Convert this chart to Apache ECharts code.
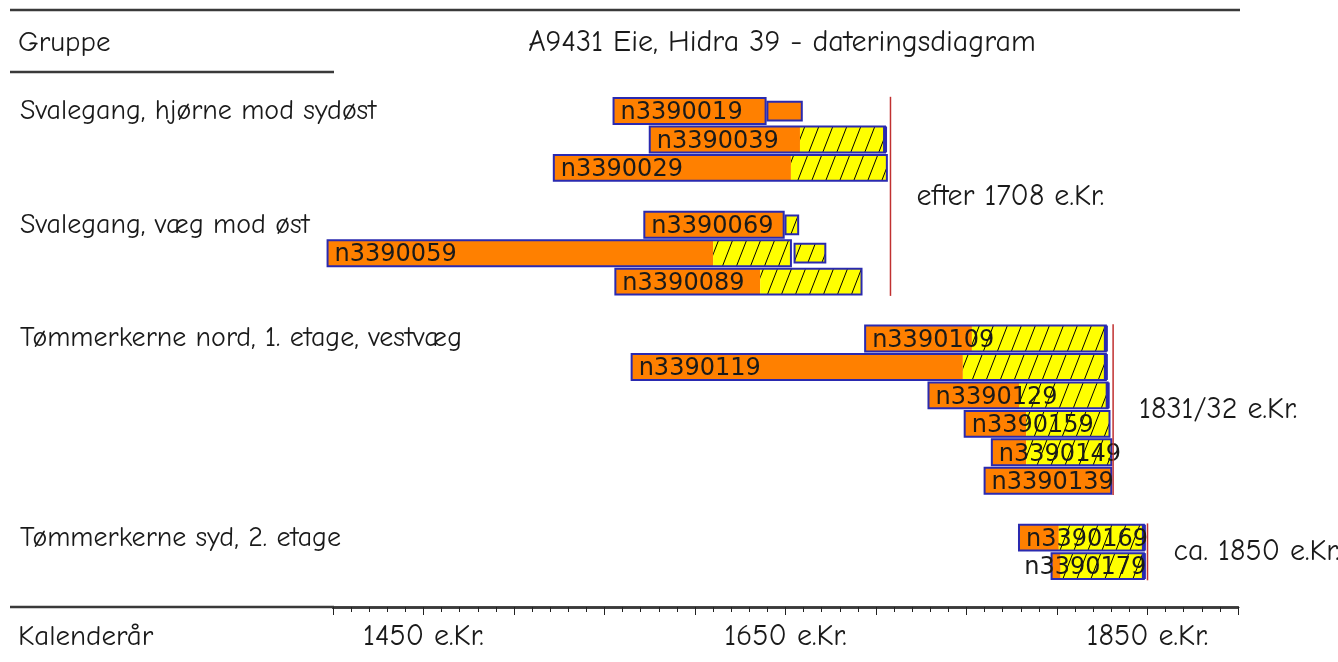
<!DOCTYPE html>
<html><head><meta charset="utf-8">
<script src="https://cdn.jsdelivr.net/npm/echarts@6.0.0/dist/echarts.min.js"></script>
<style>html,body{margin:0;padding:0;background:#fff}#c{width:1338px;height:662px}</style>
</head><body><div id="c"></div>
<script>
// ---------- DATA ----------
const groupNames = ['Svalegang, hjørne mod sydøst', 'Svalegang, væg mod øst', 'Tømmerkerne nord, 1. etage, vestvæg', 'Tømmerkerne syd, 2. etage'];
// rows of the diagram ('' = empty spacer row between groups)
const samples      = ['n3390019','n3390039','n3390029','', 'n3390069','n3390059','n3390089','', 'n3390109','n3390119','n3390129','n3390159','n3390149','n3390139','', 'n3390169','n3390179'];
const sampleGroup  = [0,0,0,-1, 1,1,1,-1, 2,2,2,2,2,2,-1, 3,3];
const startYear    = [1555,1575,1522,null, 1572,1397,1556,null, 1694,1565,1729,1749,1764,1760,null, 1779,1797];
const sapwoodStart = [null,1658,1653,null, null,1610,1636,null, 1753,1748,1779,1783,1783,null,null, 1801,1802];
const endYear      = [1639,1705,1706,null, 1649,1653,1692,null, 1827,1827,1828,1829,1830,1830,null, 1848,1848];
const extraStart   = [1640,null,null,null, 1650,1655,null,null, null,null,null,null,null,null,null, null,null];
const extraEnd     = [1659,null,null,null, 1657,1672,null,null, null,null,null,null,null,null,null, null,null];
const extraSapwood = [false,false,false,false, true,true,false,false, false,false,false,false,false,false,false, false,false];
const waneyEdge    = [false,true,false,false, false,false,false,false, true,true,true,false,false,false,false, true,true];
const labelYear    = [null,null,null,null, null,null,null,null, null,null,null,null,null,null,null, null,1778];

const datingYear  = [1708, 1831, 1850];
const datingFirst = ['n3390019', 'n3390109', 'n3390169'];
const datingLast  = ['n3390089', 'n3390139', 'n3390179'];
const datingText  = ['efter 1708 e.Kr.', '1831/32 e.Kr.', 'ca. 1850 e.Kr.'];

const xTickYears  = [1450, 1650, 1850];
const xTickLabels = ['1450 e.Kr.', '1650 e.Kr.', '1850 e.Kr.'];
const axisMin = 1400, axisMax = 1900;

const titleText = 'A9431 Eie, Hidra 39 - dateringsdiagram';
const headerLeft = 'Gruppe';
const footerLeft = 'Kalenderår';

// ---------- STYLE ----------
const ORANGE = '#FF8000', YELLOW = '#FFFF00', BLUE = '#2A2AB0', RED = '#C03030', INK = '#1a1a1a', RULE = '#3a3a3a';
const HAND = "'Comic Sans MS','Comic Neue','Open Sans',sans-serif";
const LABELFONT = "'DejaVu Sans',Verdana,sans-serif";

function makeHatch() {
  const w = 14, h = 36;
  const c = document.createElement('canvas');
  c.width = w; c.height = h;
  const g = c.getContext('2d');
  g.fillStyle = YELLOW; g.fillRect(0, 0, w, h);
  g.strokeStyle = '#000'; g.lineWidth = 1;
  for (const off of [-w, 0, w]) {
    g.beginPath(); g.moveTo(off, h); g.lineTo(off + w, 0); g.stroke();
  }
  return c;
}
const hatch = { image: makeHatch(), repeat: 'repeat' };

const yCats = samples.map((s, i) => s || ('_gap' + i));
const rowData = samples.map((s, i) => s ? [i] : null).filter(d => d);
const groupFirstRow = groupNames.map((g, k) => sampleGroup.indexOf(k));

function renderBar(params, api) {
  const i = api.value(0);
  const yc = api.coord([axisMin, i])[1];
  const band = api.size([0, 1])[1];
  const h = band * 0.91;
  const top = yc - h / 2;
  const X = v => api.coord([v, i])[0];
  const x0 = X(startYear[i]), x1 = X(endYear[i]);
  const xs = sapwoodStart[i] != null ? X(sapwoodStart[i]) : x1;
  const ch = [];
  ch.push({ type: 'rect', shape: { x: x0, y: top, width: xs - x0, height: h }, style: { fill: ORANGE } });
  if (xs < x1) ch.push({ type: 'rect', shape: { x: xs, y: top, width: x1 - xs, height: h }, style: { fill: hatch } });
  ch.push({ type: 'rect', shape: { x: x0, y: top, width: x1 - x0, height: h }, style: { fill: 'none', stroke: BLUE, lineWidth: 2 } });
  if (waneyEdge[i]) ch.push({ type: 'line', shape: { x1: x1, y1: top, x2: x1, y2: top + h }, style: { stroke: BLUE, lineWidth: 4 } });
  if (extraStart[i] != null) {
    const e0 = X(extraStart[i]), e1 = X(extraEnd[i]), eh = band * 0.66;
    ch.push({ type: 'rect', shape: { x: e0, y: yc - eh / 2, width: e1 - e0, height: eh }, style: { fill: extraSapwood[i] ? hatch : ORANGE, stroke: BLUE, lineWidth: 2 } });
  }
  const lx = X(labelYear[i] != null ? labelYear[i] : startYear[i]) + 7;
  ch.push({ type: 'text', style: { x: lx, y: yc + 2, text: samples[i], fill: INK, fontSize: 24, fontFamily: LABELFONT, align: 'left', verticalAlign: 'middle' } });
  return { type: 'group', children: ch };
}

function renderDating(params, api) {
  const k = params.dataIndex;
  const band = api.size([0, 1])[1];
  const x = api.coord([datingYear[k], 0])[0];
  const yTop = api.coord([axisMin, samples.indexOf(datingFirst[k])])[1] - band / 2;
  const yBot = api.coord([axisMin, samples.indexOf(datingLast[k])])[1] + band / 2;
  return { type: 'group', children: [
    { type: 'line', shape: { x1: x, y1: yTop, x2: x, y2: yBot }, style: { stroke: RED, lineWidth: 1.5 } },
    { type: 'text', style: { x: x + 26, y: (yTop + yBot) / 2, text: datingText[k], fill: INK, fontSize: 30, fontFamily: HAND, align: 'left', verticalAlign: 'middle' } }
  ] };
}

const chart = echarts.init(document.getElementById('c'), null, { renderer: 'canvas' });
const tickCommon = { lineStyle: { color: '#222', width: 1 } };
chart.setOption({
  animation: false,
  backgroundColor: '#fff',
  grid: [
    { left: 333, right: 100, top: 72, bottom: 55, outerBoundsMode: 'none', containLabel: false },
    { left: 333, right: 100, top: 96.8, height: 483.5, outerBoundsMode: 'none', containLabel: false }
  ],
  xAxis: [
    { gridIndex: 0, type: 'value', position: 'top', min: axisMin, max: axisMax, interval: 50,
      axisLine: { show: true, lineStyle: { color: RULE, width: 2.5 } },
      axisTick: Object.assign({ show: true, inside: true, length: 8 }, tickCommon),
      minorTick: Object.assign({ show: true, splitNumber: 5, length: 5 }, tickCommon),
      axisLabel: { show: false }, splitLine: { show: false } },
    { gridIndex: 0, type: 'value', position: 'bottom', min: axisMin, max: axisMax, interval: 50,
      axisLine: { show: true, lineStyle: { color: RULE, width: 2.5 } },
      axisTick: Object.assign({ show: true, length: 8 }, tickCommon),
      minorTick: Object.assign({ show: true, splitNumber: 5, length: 5 }, tickCommon),
      axisLabel: { show: true, margin: 15, fontSize: 30, fontFamily: HAND, color: INK, hideOverlap: false,
        formatter: v => { const k = xTickYears.indexOf(v); return k >= 0 ? xTickLabels[k] : ''; } },
      splitLine: { show: false } },
    { gridIndex: 1, type: 'value', min: axisMin, max: axisMax, show: false }
  ],
  yAxis: [
    { gridIndex: 0, type: 'value', show: false },
    { gridIndex: 1, type: 'category', inverse: true, data: yCats,
      axisLine: { show: false }, axisTick: { show: false }, splitLine: { show: false },
      axisLabel: { show: true, align: 'left', margin: 313, fontSize: 28, fontFamily: HAND, color: INK, interval: 0, hideOverlap: false,
        padding: [5, 0, 0, 0],
        formatter: (v, idx) => { const g = groupFirstRow.indexOf(idx); return g >= 0 ? groupNames[g] : ''; } } }
  ],
  graphic: [
    { type: 'line', shape: { x1: 10, y1: 10, x2: 1240, y2: 10 }, style: { stroke: RULE, lineWidth: 2.5 } },
    { type: 'line', shape: { x1: 10, y1: 72, x2: 334, y2: 72 }, style: { stroke: RULE, lineWidth: 2.5 } },
    { type: 'line', shape: { x1: 10, y1: 607, x2: 334, y2: 607 }, style: { stroke: RULE, lineWidth: 2.5 } },
    { type: 'text', x: 18, y: 43, style: { text: headerLeft, fontSize: 29, fontFamily: HAND, fill: INK, align: 'left', verticalAlign: 'middle' } },
    { type: 'text', x: 782, y: 43, style: { text: titleText, fontSize: 30, fontFamily: HAND, fill: INK, align: 'center', verticalAlign: 'middle' } },
    { type: 'text', x: 18, y: 637, style: { text: footerLeft, fontSize: 29, fontFamily: HAND, fill: INK, align: 'left', verticalAlign: 'middle' } }
  ],
  series: [
    { type: 'custom', xAxisIndex: 2, yAxisIndex: 1, renderItem: renderBar, data: rowData, clip: false },
    { type: 'custom', xAxisIndex: 2, yAxisIndex: 1, renderItem: renderDating, data: datingYear.map(v => [v]), clip: false }
  ]
});
</script>
</body></html>
